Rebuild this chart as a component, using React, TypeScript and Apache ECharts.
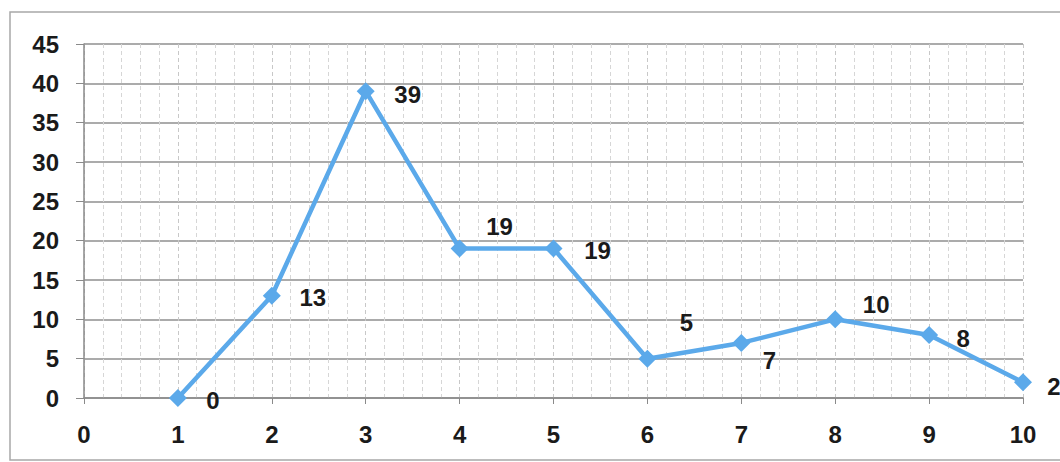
import React, { useEffect, useRef } from "react";
import * as echarts from "echarts";

const xValues = [1, 2, 3, 4, 5, 6, 7, 8, 9, 10];
const yValues = [0, 13, 39, 19, 19, 5, 7, 10, 8, 2];
const labelOffsets: [number, number][] = [
  [35, 2], [41, 2], [42, 3], [40, -22], [44, 2], [39, -36], [28, 18], [41, -15], [34, 3], [31, 4],
];

export default function App() {
  const ref = useRef<HTMLDivElement>(null);
  useEffect(() => {
    if (!ref.current) return;
    const chart = echarts.init(ref.current, null, { renderer: "svg" });
    const font = "'Liberation Sans', Arial, sans-serif";
    chart.setOption({
      animation: false,
      backgroundColor: "#ffffff",
      textStyle: { fontFamily: font },
      graphic: [
        {
          type: "rect",
          shape: { x: 10, y: 12, width: 1070, height: 448 },
          style: { fill: "none", stroke: "#a8a8a8", lineWidth: 1.5 },
          silent: true,
        },
      ],
      grid: { left: 84, right: 37, top: 44, bottom: 64 },
      xAxis: {
        type: "value",
        min: 0,
        max: 10,
        interval: 1,
        axisLine: { show: true, onZero: false, lineStyle: { color: "#8a8a8a", width: 1.5 } },
        axisTick: { show: true, length: 6, lineStyle: { color: "#8a8a8a" } },
        minorTick: { show: false, splitNumber: 5 },
        splitLine: { show: true, lineStyle: { color: "#c8c8c8", width: 1, type: [4, 3] } },
        minorSplitLine: { show: true, lineStyle: { color: "#d6d6d6", width: 1, type: [4, 3] } },
        axisLabel: { color: "#1a1a1a", fontSize: 24, fontWeight: "bold", fontFamily: font, margin: 24 },
      },
      yAxis: {
        type: "value",
        min: 0,
        max: 45,
        interval: 5,
        axisLine: { show: true, lineStyle: { color: "#8a8a8a", width: 1.5 } },
        axisTick: { show: true, length: 8, lineStyle: { color: "#8a8a8a" } },
        splitLine: { show: true, lineStyle: { color: "#8f8f8f", width: 1.5 } },
        axisLabel: { color: "#1a1a1a", fontSize: 24, fontWeight: "bold", fontFamily: font, margin: 25 },
      },
      series: [
        {
          type: "line",
          data: xValues.map((x, i) => ({
            value: [x, yValues[i]],
            label: { offset: labelOffsets[i] },
          })),
          symbol: "diamond",
          symbolSize: 18,
          lineStyle: { color: "#5ba9ea", width: 4.5 },
          itemStyle: { color: "#5ba9ea" },
          label: {
            show: true,
            position: "inside",
            color: "#1a1a1a",
            fontSize: 24,
            fontWeight: "bold",
            fontFamily: font,
            formatter: (p: any) => String(p.value[1]),
          },
        },
      ],
    });
    return () => chart.dispose();
  }, []);
  return (
    <div
      ref={ref}
      style={{ position: "fixed", left: 0, top: 0, width: 1060, height: 462 }}
    />
  );
}
